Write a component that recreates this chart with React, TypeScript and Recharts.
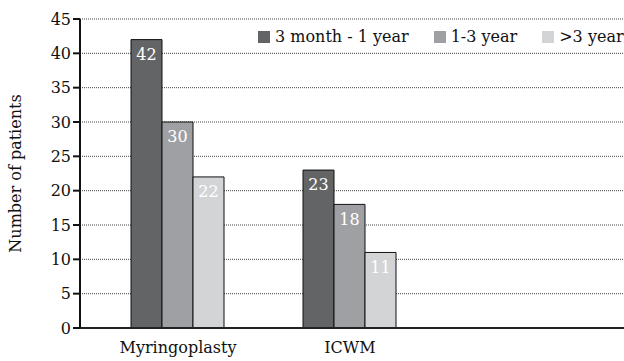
import { Bar, BarChart, CartesianGrid, LabelList, XAxis, YAxis } from "recharts";

const categories = ["Myringoplasty", "ICWM", ""];
const shortTerm = [42, 23, null];
const midTerm = [30, 18, null];
const longTerm = [22, 11, null];
const yTicks = [0, 5, 10, 15, 20, 25, 30, 35, 40, 45];

const SERIES = [
  { key: "shortTerm", name: "3 month - 1 year", color: "#636466" },
  { key: "midTerm", name: "1-3 year", color: "#9fa0a3" },
  { key: "longTerm", name: ">3 year", color: "#d3d4d6" },
];

const data = categories.map((c, i) => ({
  category: c,
  shortTerm: shortTerm[i],
  midTerm: midTerm[i],
  longTerm: longTerm[i],
}));

const FONT = "'DejaVu Serif', serif";

// legend is drawn as an overlay so it doesn't eat into the plot height
function ChartLegend() {
  return (
    <div
      style={{
        position: "absolute",
        left: 256,
        top: 27,
        width: "max-content",
        display: "flex",
        whiteSpace: "nowrap",
        fontFamily: FONT,
        fontSize: 16,
        color: "#111",
        background: "#fff",
        padding: "0 2px",
      }}
    >
      {SERIES.map((s, i) => (
        <div
          key={s.key}
          style={{ display: "flex", alignItems: "center", marginRight: i < 2 ? 25 : 0 }}
        >
          <span
            style={{
              display: "inline-block",
              width: 12,
              height: 12,
              background: s.color,
              marginRight: 5,
            }}
          />
          {s.name}
        </div>
      ))}
    </div>
  );
}

export default function App() {
  return (
    <div style={{ position: "absolute", left: 0, top: 0, width: 624, height: 361, background: "#fff", overflow: "hidden" }}>
      <BarChart
        width={624}
        height={361}
        data={data}
        margin={{ top: 19, right: 0, left: 0, bottom: 0 }}
        barCategoryGap={39}
        barGap={0}
      >
        <CartesianGrid vertical={false} stroke="#444" strokeDasharray="1 1" />
        <XAxis
          dataKey="category"
          tickLine={false}
          axisLine={{ stroke: "#222", strokeWidth: 2 }}
          padding={{ left: 12, right: 16 }}
          height={33}
          tick={{ fontFamily: FONT, fontSize: 16, fill: "#111" }}
          tickMargin={8}
        />
        <YAxis
          domain={[0, 45]}
          ticks={yTicks}
          interval={0}
          width={80}
          tickSize={7}
          tickLine={{ stroke: "#111", strokeWidth: 2 }}
          axisLine={{ stroke: "#111", strokeWidth: 2 }}
          tick={{ fontFamily: FONT, fontSize: 16, fill: "#111" }}
          label={{
            value: "Number of patients",
            angle: -90,
            position: "insideLeft",
            offset: 15,
            textAnchor: "middle",
            style: { fontFamily: FONT, fontSize: 16, fill: "#111" },
          }}
        />
        {SERIES.map((s) => (
          <Bar
            key={s.key}
            dataKey={s.key}
            name={s.name}
            fill={s.color}
            stroke="#111"
            strokeWidth={1}
            isAnimationActive={false}
          >
            <LabelList
              dataKey={s.key}
              position="insideTop"
              offset={9}
              style={{ fontFamily: FONT, fontSize: 16, fill: "#fff" }}
            />
          </Bar>
        ))}
      </BarChart>
      <ChartLegend />
    </div>
  );
}
